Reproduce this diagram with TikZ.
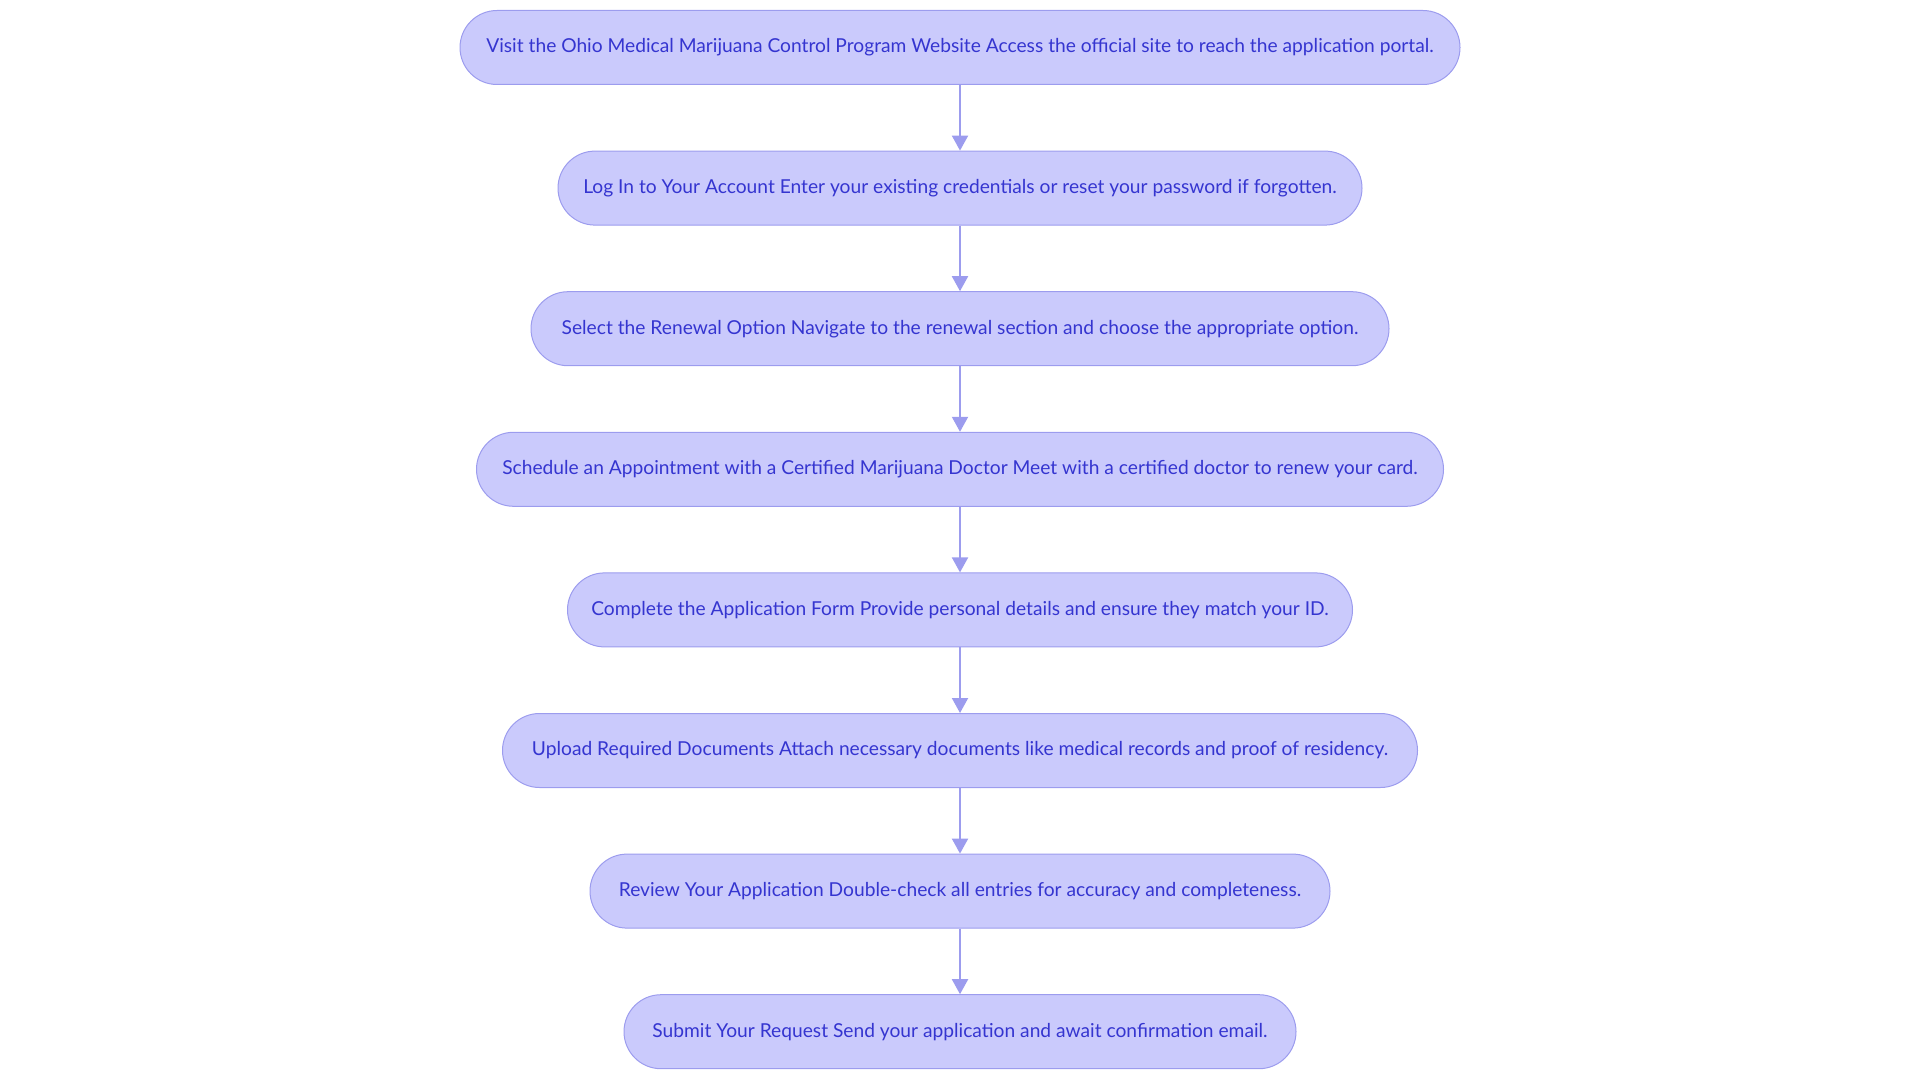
\documentclass[tikz,border=0pt]{standalone}
\usepackage{fontspec}
\setmainfont{Lato}
\usetikzlibrary{arrows.meta}

\definecolor{boxfill}{HTML}{CACAFC}
\definecolor{boxline}{HTML}{9C9CEE}
\definecolor{boxtext}{HTML}{3535D0}

\begin{document}
\begin{tikzpicture}[x=1pt, y=1pt, >={Triangle[length=15pt, width=16pt]},
    stepbox/.style={draw=boxline, line width=1pt, fill=boxfill, rounded corners=37pt,
        minimum height=74pt, inner sep=0pt, text=boxtext, font=\fontsize{19.2}{21}\selectfont},
    flow/.style={->, draw=boxline, fill=boxline, line width=2pt}]

\useasboundingbox (0,0) rectangle (1920,-1083);

% the eight steps, top to bottom
\node[stepbox, minimum width=1000pt] (visit)    at (960, -47.5) {Visit the Ohio Medical Marijuana Control Program Website Access the official site to reach the application portal.};
\node[stepbox, minimum width=804pt]  (login)    at (960,-188.1) {Log In to Your Account Enter your existing credentials or reset your password if forgotten.};
\node[stepbox, minimum width=858pt]  (renewal)  at (960,-328.7) {Select the Renewal Option Navigate to the renewal section and choose the appropriate option.};
\node[stepbox, minimum width=967pt]  (doctor)   at (960,-469.3) {Schedule an Appointment with a Certified Marijuana Doctor Meet with a certified doctor to renew your card.};
\node[stepbox, minimum width=785pt]  (form)     at (960,-609.9) {Complete the Application Form Provide personal details and ensure they match your ID.};
\node[stepbox, minimum width=915pt]  (upload)   at (960,-750.5) {Upload Required Documents Attach necessary documents like medical records and proof of residency.};
\node[stepbox, minimum width=740pt]  (review)   at (960,-891.1) {Review Your Application Double-check all entries for accuracy and completeness.};
\node[stepbox, minimum width=672pt]  (submit)   at (960,-1031.7) {Submit Your Request Send your application and await confirmation email.};

% connectors
\foreach \a/\b in {visit/login, login/renewal, renewal/doctor, doctor/form,
                   form/upload, upload/review, review/submit}
    \draw[flow] (\a.south) -- (\b.north);

\end{tikzpicture}
\end{document}
